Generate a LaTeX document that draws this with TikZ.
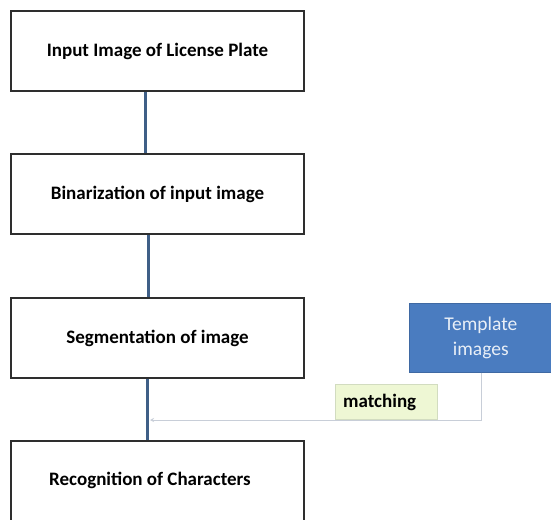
\documentclass[tikz,border=0pt]{standalone}
\usepackage{fontspec}
\setmainfont{Carlito}
\usetikzlibrary{arrows.meta}
\definecolor{boxline}{HTML}{2E2E2E}
\definecolor{flowblue}{HTML}{3F5F87}
\definecolor{tplblue}{HTML}{4A7CC0}
\definecolor{tplline}{HTML}{C8CED8}
\definecolor{matchfill}{HTML}{EEF7D4}
\definecolor{matchline}{HTML}{D2DCC0}
\tikzset{
  stepfont/.style={font=\bfseries\fontsize{19}{22}\selectfont},
  stepbox/.style={draw=boxline, line width=2pt, fill=white, minimum width=293pt,
    minimum height=80pt, anchor=north west, inner sep=0pt, stepfont},
  flow/.style={draw=flowblue, line width=3pt},
  tplbox/.style={fill=tplblue, draw=tplblue!85!black, line width=0.6pt,
    minimum width=143pt, minimum height=69pt, anchor=north west, inner sep=0pt,
    text=white!88!tplblue, align=center, font=\fontsize{19.5}{25}\selectfont},
  matchbox/.style={fill=matchfill, draw=matchline, line width=0.6pt,
    minimum width=102pt, minimum height=35pt, anchor=north west, inner sep=0pt},
}
\begin{document}
\begin{tikzpicture}[x=1pt, y=-1pt]
  \useasboundingbox (0,0) rectangle (551,519);
  \clip (0,0) rectangle (551,519);
  % process steps
  \node[stepbox] (s1) at (10,10)  {Input Image of License Plate};
  \node[stepbox] (s2) at (10,153) {Binarization of input image};
  \node[stepbox] (s3) at (10,297) {Segmentation of image};
  \node[stepbox, minimum height=110pt] (s4) at (10,440) {};
  \node[stepfont] (s4t) at (150,480) {Recognition of Characters};
  % template source and matching label
  \node[tplbox] (tpl) at (409,303) {Template\\images};
  \node[matchbox] (match) at (335,384) {};
  \node[stepfont, anchor=west, inner sep=0pt] (matcht) at (343,402) {matching};
  % flow connectors
  \draw[flow] (s1.south -| 145,0) -- (s2.north -| 145,0);
  \draw[flow] (s2.south -| 148,0) -- (s3.north -| 148,0);
  \draw[flow] (s3.south -| 147,0) -- (s4.north -| 147,0);
  % template feeds the recognition step
  \coordinate (join) at (150,420);
  \draw[draw=tplline, line width=1pt, -{Stealth[length=4pt,width=4pt]}]
    (tpl.south -| 481,0) -- (481,420) -- (join);
\end{tikzpicture}
\end{document}
